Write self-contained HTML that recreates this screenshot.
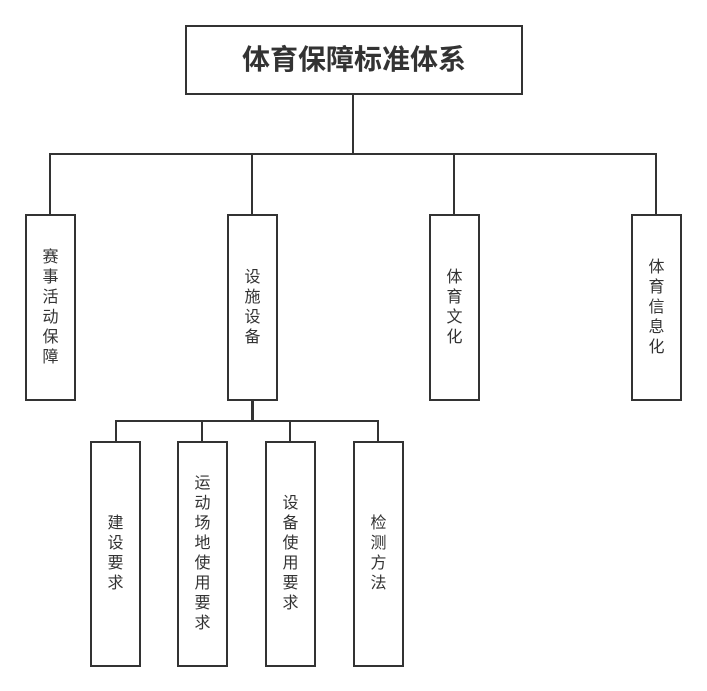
<!DOCTYPE html>
<html><head><meta charset="utf-8"><style>
body{margin:0;width:707px;height:691px;background:#fff;position:relative;overflow:hidden;font-family:"Liberation Sans","Noto Sans CJK SC",sans-serif;color:#333}
.b{position:absolute;box-sizing:border-box;border:2px solid #333;background:#fff;display:flex;align-items:center;justify-content:center;text-align:center;font-size:16px;line-height:20px;width:51px}
.l{position:absolute;background:#333}
</style></head><body>
<div class="b" style="left:185px;top:25px;width:338px;height:70px;font-size:28px;font-weight:bold;line-height:30px">体育保障标准体系</div>
<div class="l" style="left:352px;top:95px;width:2px;height:60px"></div>
<div class="l" style="left:49px;top:153px;width:608px;height:2px"></div>
<div class="l" style="left:49px;top:153px;width:2px;height:62px"></div>
<div class="l" style="left:251px;top:153px;width:2px;height:62px"></div>
<div class="l" style="left:453px;top:153px;width:2px;height:62px"></div>
<div class="l" style="left:655px;top:153px;width:2px;height:62px"></div>
<div class="b" style="left:25px;top:214px;height:187px">赛<br>事<br>活<br>动<br>保<br>障</div>
<div class="b" style="left:227px;top:214px;height:187px">设<br>施<br>设<br>备</div>
<div class="b" style="left:429px;top:214px;height:187px">体<br>育<br>文<br>化</div>
<div class="b" style="left:631px;top:214px;height:187px">体<br>育<br>信<br>息<br>化</div>
<div class="l" style="left:251px;top:401px;width:3px;height:21px"></div>
<div class="l" style="left:115px;top:420px;width:264px;height:2px"></div>
<div class="l" style="left:115px;top:420px;width:2px;height:23px"></div>
<div class="l" style="left:201px;top:420px;width:2px;height:23px"></div>
<div class="l" style="left:289px;top:420px;width:2px;height:23px"></div>
<div class="l" style="left:377px;top:420px;width:2px;height:23px"></div>
<div class="b" style="left:90px;top:441px;height:226px">建<br>设<br>要<br>求</div>
<div class="b" style="left:177px;top:441px;height:226px">运<br>动<br>场<br>地<br>使<br>用<br>要<br>求</div>
<div class="b" style="left:265px;top:441px;height:226px">设<br>备<br>使<br>用<br>要<br>求</div>
<div class="b" style="left:353px;top:441px;height:226px">检<br>测<br>方<br>法</div>
</body></html>
